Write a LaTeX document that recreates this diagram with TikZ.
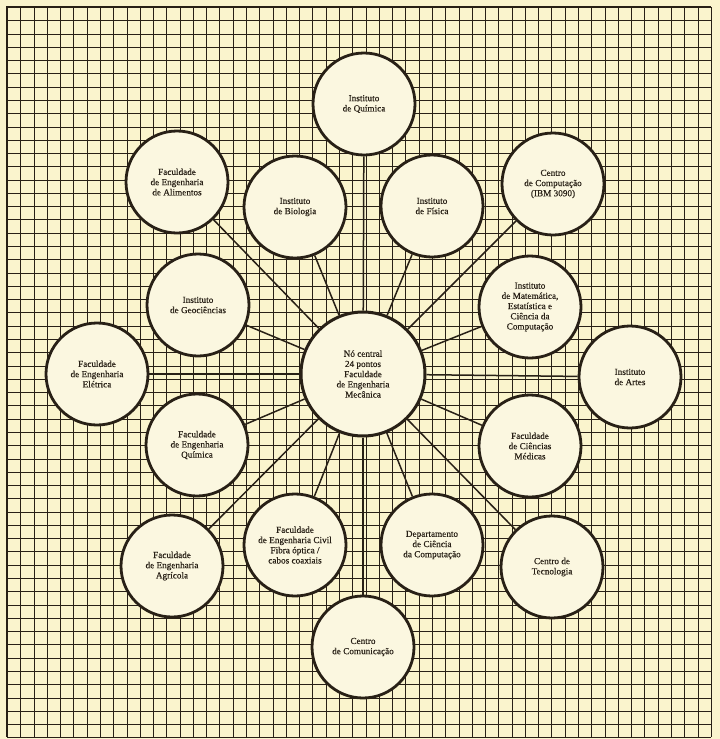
\documentclass[tikz,border=0pt]{standalone}
\usepackage{fontspec}
\setmainfont{Liberation Serif}
\newfontfamily\lblfont[FakeBold=0.35]{Liberation Serif}
\definecolor{paper}{RGB}{250,244,205}
\definecolor{cfill}{RGB}{251,247,224}
\definecolor{ink}{RGB}{40,32,22}
\begin{document}
\begin{tikzpicture}[x=1pt,y=-1pt,
  gridline/.style={draw=ink,line width=1.15pt},
  frame/.style={draw=ink,line width=1.8pt},
  site/.style={circle,draw=ink,line width=2.8pt,fill=cfill,minimum size=102pt,inner sep=0pt,align=center,font=\lblfont\fontsize{9.2}{10.2}\selectfont,text=ink},
  hub/.style={site,minimum size=124pt,line width=3pt},
  conn/.style={draw=ink,line width=1.5pt}]
\fill[paper] (0,0) rectangle (720,739);
\useasboundingbox (0,0) rectangle (720,739);
\foreach \i in {0,...,53} {
  \pgfmathsetmacro{\gx}{round(7+\i*13.28)+0.5}
  \draw[gridline] (\gx,7) -- (\gx,737);}
\foreach \j in {0,...,55} {
  \pgfmathsetmacro{\gy}{round(7+\j*13.28)+0.5}
  \draw[gridline] (7,\gy) -- (711,\gy);}
\draw[frame] (711,7) -- (7,7) -- (7,737);
% nodes
\node[hub]  (hub) at (363,374) {Nó central\\24 pontos\\Faculdade\\de Engenharia\\Mecânica};
\node[site] (qui) at (364,104) {Instituto\\de Química};
\node[site] (bio) at (295,207) {Instituto\\de Biologia};
\node[site] (fis) at (432,206) {Instituto\\de Física};
\node[site] (ali) at (177,182) {Faculdade\\de Engenharia\\de Alimentos};
\node[site] (cmp) at (553,184) {Centro\\de Computação\\(IBM 3090)};
\node[site] (geo) at (198,305) {Instituto\\de Geociências};
\node[site] (mat) at (530,307) {Instituto\\de Matemática,\\Estatística e\\Ciência da\\Computação};
\node[site] (ele) at (97,374) {Faculdade\\de Engenharia\\Elétrica};
\node[site] (art) at (630,377) {Instituto\\de Artes};
\node[site] (eqm) at (197,445) {Faculdade\\de Engenharia\\Química};
\node[site] (med) at (530,446) {Faculdade\\de Ciências\\Médicas};
\node[site] (agr) at (172,566) {Faculdade\\de Engenharia\\Agrícola};
\node[site] (civ) at (295,545) {Faculdade\\de Engenharia Civil\\Fibra óptica /\\cabos coaxiais};
\node[site] (dep) at (432,545) {Departamento\\de Ciência\\da Computação};
\node[site] (tec) at (552,567) {Centro de\\Tecnologia};
\node[site] (com) at (363,647) {Centro\\de Comunicação};
% connectors
\foreach \n in {qui,bio,fis,ali,cmp,geo,mat,ele,art,eqm,med,agr,civ,dep,tec,com}
  \draw[conn] (hub) -- (\n);
\end{tikzpicture}
\end{document}
